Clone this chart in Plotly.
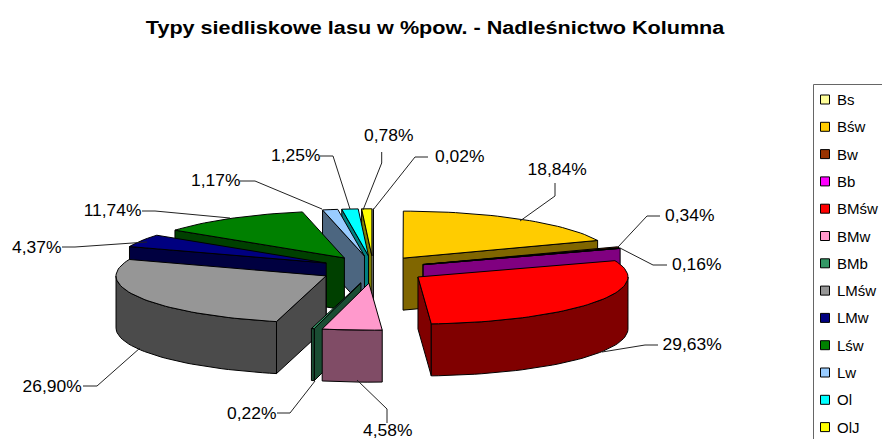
import math
import plotly.graph_objects as go

categories = ["Bs", "Bśw", "Bw", "Bb", "BMśw", "BMw", "BMb", "LMśw", "LMw", "Lśw", "Lw", "Ol", "OlJ"]
values = [0.02, 18.84, 0.34, 0.16, 29.63, 4.58, 0.22, 26.90, 4.37, 11.74, 1.17, 1.25, 0.78]
value_labels = ["0,02%", "18,84%", "0,34%", "0,16%", "29,63%", "4,58%", "0,22%", "26,90%", "4,37%", "11,74%", "1,17%", "1,25%", "0,78%"]
top_colors = ["#ffff99", "#ffcc00", "#993300", "#ff00ff", "#ff0000", "#ff99cc", "#339966", "#969696", "#000080", "#008000", "#99ccff", "#00ffff", "#ffff00"]
legend_colors = top_colors
side_colors = ["#808066", "#806600", "#4c1900", "#800080", "#800000", "#804c66", "#1a4d33", "#4b4b4b", "#000040", "#004000", "#4c6680", "#008080", "#808000"]
draw_order = ["Bs", "OlJ", "Ol", "Lw", "Lśw", "LMw", "LMśw", "Bśw", "Bw", "Bb", "BMśw", "BMb", "BMw"]

# pie projection
CX, CY, RX, RY, DEPTH = 373.2, 269.5, 210.0, 47.0, 52.0
EXPLODE_X, EXPLODE_Y = 53.4, 13.7

# label anchor and leader-line routing, in chart pixels
label_pos = {
    "Bs": (459, 156), "Bśw": (557, 169), "Bw": (689, 215), "Bb": (696, 264),
    "BMśw": (692, 344), "BMw": (387, 430), "BMb": (251, 413), "LMśw": (52, 386),
    "LMw": (36, 247), "Lśw": (112, 210), "Lw": (215, 180), "Ol": (295, 155), "OlJ": (388, 135),
}
leaders = {
    "Bs": [(428, 157), (415, 157), (373, 210)],
    "Bśw": [(555, 183), (555, 196), (520, 221)],
    "Bw": [(660, 216), (647, 216), (618, 247)],
    "Bb": [(667, 265), (653, 265), (620, 248)],
    "BMśw": [(658, 345), (645, 345), (602, 352)],
    "BMw": [(387, 423), (387, 409), (357, 380)],
    "BMb": [(277, 413), (290, 413), (315, 381)],
    "LMśw": [(83, 386), (97, 386), (140, 348)],
    "LMw": [(62, 247), (75, 247), (147, 242)],
    "Lśw": [(142, 211), (155, 211), (230, 218)],
    "Lw": [(240, 181), (255, 181), (322, 209)],
    "Ol": [(320, 156), (333, 156), (350, 209)],
    "OlJ": [(381.7, 152), (381.7, 163), (363, 210)],
}

fig = go.Figure()


def poly(xs, ys, fill):
    fig.add_trace(go.Scatter(x=xs, y=ys, mode="lines", fill="toself", fillcolor=fill,
                             line=dict(color="#000000", width=1), hoverinfo="skip", showlegend=False))


total = sum(values)
angles = {}
start = 0.0
for name, v in zip(categories, values):
    end = start + v / total * 360.0
    angles[name] = (start, end)
    start = end

for name in draw_order:
    i = categories.index(name)
    a, b = angles[name]
    mid = math.radians((a + b) / 2)
    ax = CX + EXPLODE_X * math.sin(mid)
    ay = CY - EXPLODE_Y * math.cos(mid)

    def rim(t):
        r = math.radians(t)
        return ax + RX * math.sin(r), ay - RY * math.cos(r)

    for t, visible in ((a, math.sin(math.radians(a)) < 0), (b, math.sin(math.radians(b)) > 0)):
        if visible:
            px, py = rim(t)
            poly([ax, px, px, ax, ax], [ay, py, py + DEPTH, ay + DEPTH, ay], side_colors[i])

    lo, hi = max(a, 90.0), min(b, 270.0)
    if hi > lo:
        n = max(2, int((hi - lo) / 2) + 1)
        ts = [lo + (hi - lo) * k / (n - 1) for k in range(n)]
        pts = [rim(t) for t in ts]
        xs = [p[0] for p in pts] + [p[0] for p in reversed(pts)]
        ys = [p[1] for p in pts] + [p[1] + DEPTH for p in reversed(pts)]
        poly(xs + xs[:1], ys + ys[:1], side_colors[i])

    n = max(2, int((b - a) / 2) + 1)
    pts = [rim(a + (b - a) * k / (n - 1)) for k in range(n)]
    poly([ax] + [p[0] for p in pts] + [ax], [ay] + [p[1] for p in pts] + [ay], top_colors[i])

for name, pts in leaders.items():
    fig.add_trace(go.Scatter(x=[p[0] for p in pts], y=[p[1] for p in pts], mode="lines",
                             line=dict(color="#222222", width=1), hoverinfo="skip", showlegend=False))

annotations = [dict(x=435.5, y=28, xref="x", yref="y", text="Typy siedliskowe lasu w %pow. - Nadleśnictwo Kolumna",
                    showarrow=False, font=dict(family="Liberation Sans", size=18, weight="bold", color="#000000"))]
for name, lab in zip(categories, value_labels):
    x, y = label_pos[name]
    annotations.append(dict(x=x, y=y, xref="x", yref="y", text=lab, showarrow=False,
                            font=dict(family="Liberation Sans", size=16, color="#000000")))

legend_y0, legend_step = 99.5, 27.3
legend_ys = [legend_y0 + legend_step * k for k in range(len(categories))]
fig.add_trace(go.Scatter(x=[825] * len(categories), y=legend_ys, mode="markers", hoverinfo="skip", showlegend=False,
                         marker=dict(symbol="square", size=9, color=legend_colors, line=dict(color="#000000", width=1))))
for name, y in zip(categories, legend_ys):
    annotations.append(dict(x=835, y=y, xref="x", yref="y", text=name, xanchor="left", showarrow=False,
                            font=dict(family="Liberation Sans", size=15, color="#000000")))

fig.update_layout(
    width=882, height=439, autosize=False,
    margin=dict(l=0, r=0, t=0, b=0),
    paper_bgcolor="#ffffff", plot_bgcolor="#ffffff",
    xaxis=dict(range=[0, 882], visible=False, fixedrange=True),
    yaxis=dict(range=[439, 0], visible=False, fixedrange=True),
    annotations=annotations,
    shapes=[dict(type="rect", xref="x", yref="y", x0=813.5, y0=84.5, x1=900, y1=460,
                 line=dict(color="#666666", width=1), fillcolor="rgba(0,0,0,0)")],
)

# The reference's text is horizontally stretched; reproduce that on the real SVG text.
post = """
document.body.style.margin = '0';
document.body.style.overflow = 'hidden';
document.querySelectorAll('.annotation-text').forEach(function (t) {
  var s = t.textContent.indexOf('Typy') === 0 ? 1.2 : (t.textContent.indexOf('%') >= 0 ? 1.09 : 1.0);
  var w = t.getComputedTextLength();
  t.setAttribute('textLength', w * s);
  t.setAttribute('lengthAdjust', 'spacingAndGlyphs');
});
"""
fig.write_html("out.html", post_script=post, config=dict(displayModeBar=False))
